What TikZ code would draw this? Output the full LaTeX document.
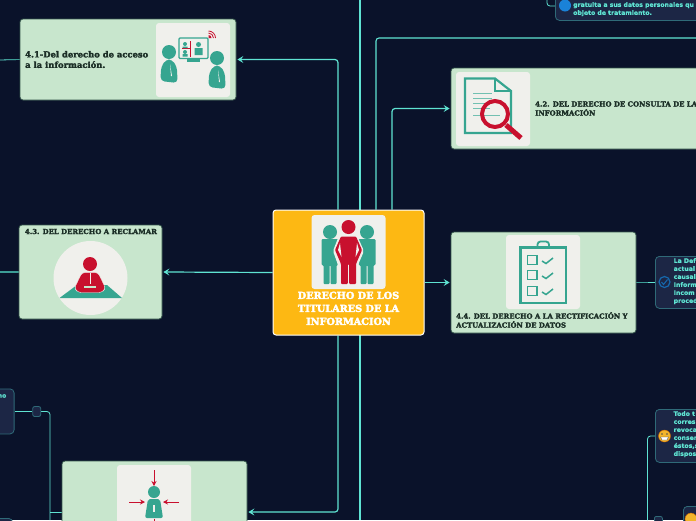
\documentclass[tikz,border=0pt]{standalone}
\usepackage{fontspec}
\setmainfont[BoldFeatures={FakeBold=0.5}]{DejaVu Sans}
\newfontfamily\titlefont[BoldFeatures={FakeBold=2.4}]{DejaVu Serif}
\newfontfamily\hubfont[BoldFeatures={FakeBold=3.2}]{DejaVu Serif}
\usepackage{tikz}
\usetikzlibrary{
  arrows.meta,
  positioning,
  backgrounds
}
\definecolor{mapnight}{HTML}{0A122A}
\definecolor{maplink}{HTML}{5FE3D2}
\definecolor{mapstub}{HTML}{3C9C96}
\definecolor{mapgreen}{HTML}{C8E6CD}
\definecolor{mapedge}{HTML}{34544A}
\definecolor{mapgold}{HTML}{FDB813}
\definecolor{mappanel}{HTML}{F0F0EC}
\definecolor{mapteal}{HTML}{36A590}
\definecolor{mapred}{HTML}{C8102E}
\definecolor{mapnote}{HTML}{1C2645}
\definecolor{mapnoteedge}{HTML}{2F6A78}
\definecolor{mapink}{HTML}{1B2E26}
\definecolor{mapblue}{HTML}{1A82D8}
\definecolor{mapface}{HTML}{F2B52C}
\tikzset{
  topic/.style={
    rectangle, draw=mapedge, fill=mapgreen, rounded corners=3pt,
    line width=0.8pt, inner sep=0pt
  },
  hubbox/.style={
    rectangle, draw=white, fill=mapgold, rounded corners=3pt,
    line width=1pt, inner sep=0pt, minimum width=151pt, minimum height=125pt
  },
  panel/.style={
    rectangle, fill=mappanel, rounded corners=3pt,
    minimum width=74pt, minimum height=74pt, inner sep=0pt
  },
  notebox/.style={
    rectangle, draw=mapnoteedge, fill=mapnote, rounded corners=4pt,
    line width=0.8pt, inner sep=0pt
  },
  dotbox/.style={
    rectangle, draw=mapnoteedge, fill=mapnote, rounded corners=2pt,
    line width=0.8pt, inner sep=0pt, minimum width=8pt, minimum height=10pt
  },
  topictext/.style={
    font=\titlefont\bfseries\fontsize{8.4}{10.5}\selectfont, text=mapink,
    align=left, inner sep=0pt
  },
  capstext/.style={
    font=\titlefont\bfseries\fontsize{6.9}{9}\selectfont, text=mapink,
    align=left, inner sep=0pt
  },
  hubtext/.style={
    font=\hubfont\bfseries\fontsize{9.7}{13}\selectfont, text=white,
    align=center, inner sep=0pt
  },
  notetext/.style={
    font=\bfseries\fontsize{6.15}{8}\selectfont, text=maplink,
    align=left, inner sep=0pt
  },
  link/.style={-{Stealth[length=6pt, width=7pt, inset=2.5pt]}, maplink, line width=1.2pt, rounded corners=3pt},
  wire/.style={maplink, line width=1.1pt, rounded corners=3pt},
  thinwire/.style={maplink, line width=0.8pt, rounded corners=3pt},
  stub/.style={mapstub, line width=1.2pt},
  smiley/.style={circle, fill=mapface, draw=orange!80!black, line width=0.4pt, minimum size=12pt, inner sep=0pt},
  pointer/.style={-{Stealth[length=5pt, width=5pt]}, mapred, line width=1pt},
}
% head and body of one figure
\newcommand{\figperson}[3]{
  \fill[#3] (#1,#2) circle (7);
  \fill[#3, rounded corners=4pt] (#1-8.5,#2+29) -- (#1-8,#2+15) -- (#1-3,#2+7.5) -- (#1+3,#2+7.5) -- (#1+8,#2+15) -- (#1+8.5,#2+31) -- cycle;
  \fill[mappanel] (#1+1,#2+12) -- (#1+3,#2+24) -- (#1+2,#2+24) -- cycle;
}
% standing figure of the hub
\newcommand{\figstanding}[3]{
  \fill[#3] (#1,#2) circle (7);
  \fill[#3, rounded corners=1pt] (#1-8.5,#2+7) -- (#1+8.5,#2+7) -- (#1+8.5,#2+33) -- (#1+6.5,#2+33) -- (#1+6.5,#2+52) -- (#1+0.5,#2+52) -- (#1+0.5,#2+33) -- (#1-0.5,#2+33) -- (#1-0.5,#2+52) -- (#1-6.5,#2+52) -- (#1-6.5,#2+33) -- (#1-8.5,#2+33) -- cycle;
}
\begin{document}
\begin{tikzpicture}[x=1pt, y=-1pt]
\useasboundingbox (0,0) rectangle (696,520);

% main nodes
\node[hubbox] (hub) at (348.5,272.5) {};
\node[topic, minimum width=216pt, minimum height=81pt] (access) at (128,59.5) {};
\node[topic, minimum width=280pt, minimum height=81pt] (consult) at (591,108.5) {};
\node[topic, minimum width=143pt, minimum height=94pt] (claim) at (90.5,272) {};
\node[topic, minimum width=185pt, minimum height=101pt] (rectify) at (543.5,282.5) {};
\node[topic, minimum width=185pt, minimum height=102pt] (revoke) at (154.5,512) {};

% picture panels
\node[panel] (hubpanel) at (348.5,252) {};
\node[panel] (accesspanel) at (193,60) {};
\node[panel] (consultpanel) at (493,109) {};
\node[panel, circle] (claimpanel) at (90.5,278) {};
\node[panel] (rectifypanel) at (543,272) {};
\node[panel] (revokepanel) at (154,502) {};

% texts
\node[hubtext, anchor=north] (hubtitle) at (348.5,291.5) {DERECHO DE LOS\\TITULARES DE LA\\INFORMACION};
\node[topictext, anchor=west] (accesstitle) at (25,59.5) {4.1-Del derecho de acceso\\a la información.};
\node[capstext, anchor=west] (consulttitle) at (535,108.5) {4.2. DEL DERECHO DE CONSULTA DE LA\\INFORMACIÓN};
\node[capstext] (claimtitle) at (91,231.5) {4.3. DEL DERECHO A RECLAMAR};
\node[capstext, anchor=north west] (rectifytitle) at (456,312) {4.4. DEL DERECHO A LA RECTIFICACIÓN Y\\ACTUALIZACIÓN DE DATOS};

% note boxes
\node[notebox, anchor=north west, minimum width=160pt, minimum height=40pt] (notetop) at (555,-20) {};
\node[notetext, anchor=north west] (notetoptext) at (573,2) {gratuita a sus datos personales qu\\objeto de tratamiento.};
\node[notebox, anchor=north west, minimum width=70pt, minimum height=52pt] (noterect) at (655,256) {};
\node[notetext, anchor=north west] (noterecttext) at (673.5,258) {La Def\\actual\\causal\\Inform\\Incom\\proced};
\node[notebox, anchor=north west, minimum width=70pt, minimum height=53pt] (noteall) at (655,409) {};
\node[notetext, anchor=north west] (notealltext) at (673.5,411) {Todo t\\corres\\revoca\\consen\\éstos,s\\dispos};
\node[notebox, anchor=north west, minimum width=40pt, minimum height=40pt] (notecorner) at (683,506) {};
\node[notebox, anchor=north east, minimum width=60pt, minimum height=45pt] (noteleft) at (14.5,388.5) {};
\node[notetext, anchor=east] (notelefttext) at (6.5,396) {no};
\node[notebox, anchor=north east, minimum width=60pt, minimum height=30pt] (notelow) at (13,518) {};
\node[dotbox] (dotleft) at (36.7,411.5) {};
\node[dotbox, anchor=north west] (dotright) at (654,516) {};

% free ends at the border
\coordinate (edgeA) at (0,60);
\coordinate (edgeB) at (0,272);
\coordinate (edgeC) at (696,38);
\coordinate (edgeD) at (647.5,520);
\coordinate (edgeE) at (50,520);
\coordinate (edgeF) at (547,0);
\coordinate (edgeG) at (360,0);
\coordinate (edgeH) at (360,520);

\begin{scope}[on background layer]
\fill[mapnight] (0,0) rectangle (696,520);
\draw[wire] (edgeG) -- (edgeH);
\draw[link] ([xshift=-10.5pt]hub.north) |- ([xshift=1pt]access.east);
\draw[wire] ([xshift=27.5pt]hub.north) |- (edgeC);
\draw[link] ([xshift=43.5pt]hub.north) |- ([xshift=-1pt]consult.west);
\draw[link] (hub.west) -- ([xshift=1pt]claim.east);
\draw[link] (hub.east |- rectify.west) -- ([xshift=-1pt]rectify.west);
\draw[link] ([xshift=-10.5pt]hub.south) |- ([xshift=1pt]revoke.east);
\draw[thinwire] (edgeA) -- (access.west);
\draw[stub] ([xshift=-11pt]access.west) -- (access.west);
\draw[stub] (edgeB) -- (claim.west);
\draw[stub] (rectify.east) -- ([xshift=-7pt]rectify.east -| noterect.west);
\draw[thinwire] ([xshift=-7pt]rectify.east -| noterect.west) -- (rectify.east -| noterect.west);
\draw[thinwire] (noteleft.east |- dotleft) -- (dotleft);
\draw[thinwire] (dotleft) -- ++(13.3,0) -- (edgeE);
\draw[thinwire] (revoke.west) -- (revoke.west -| edgeE);
\draw[thinwire] (edgeD) |- (noteall.west |- 0,436);
\draw[thinwire] (edgeF) |- (notetop.west |- 0,6);
\end{scope}

% icon of the hub
\figstanding{330}{232}{mapteal}
\figstanding{367}{232}{mapteal}
\fill[mappanel, rounded corners=2pt] (339,235.5) -- (357,235.5) -- (364,251) -- (358,265) -- (358,285) -- (338,285) -- (338,265) -- (333,251) -- cycle;
\fill[mapred] (348.5,227) circle (7);
\fill[mapred, rounded corners=1pt] (341,236.5) -- (356,236.5) -- (362,250) -- (356,264) -- (356,284) -- (349.2,284) -- (349.2,264) -- (347.8,264) -- (347.8,284) -- (341,284) -- (341,264) -- (335,250) -- cycle;
\fill[mappanel] (340,243) -- (338,250) -- (341.5,257) -- cycle;
\fill[mappanel] (357,243) -- (359,250) -- (355.5,257) -- cycle;

% icon of the first topic
\figperson{169}{52}{mapteal}
\figperson{217}{58}{mapteal}
\fill[mapteal] (187,59) rectangle (200,62);
\draw[mapteal, line width=1.2pt, fill=mappanel, rounded corners=1pt] (179,38) rectangle (208,58.5);
\draw[mapred, line width=1pt] (190.5,41) -- (190.5,57) (182,48.5) -- (190.5,48.5);
\fill[mapteal] (185,44) circle (2) (182.5,46.5) rectangle (187.5,48) (185,52) circle (2) (182.5,54) rectangle (187.5,56.5);
\fill[mapteal] (198.5,44.5) circle (2.5) (194.5,48) rectangle (202.5,55);
\draw[mapred, line width=0.8pt] (208.5,31) arc[start angle=-90, end angle=0, radius=7];
\draw[mapred, line width=0.8pt] (208.5,33) arc[start angle=-90, end angle=0, radius=5];
\fill[mapred] (208.5,38) -- (208.5,35) arc[start angle=-90, end angle=0, radius=3] -- cycle;

% icon of the second topic
\draw[mapteal, line width=2.2pt] (495,78.5) -- (465,78.5) -- (465,133) -- (511,133) -- (511,91) -- cycle;
\draw[mapteal, line width=1.5pt] (495,78.5) -- (495,91) -- (511,91);
\foreach \ya/\xb in {93/492, 98/492, 103/492, 108/490, 115/500}{
  \draw[mapteal!70, line width=1pt] (473,\ya) -- (\xb,\ya);
}
\draw[mapred, line width=4pt] (495,114) circle (13);
\draw[mapred, line width=5pt] (506,125) -- (521,138);

% icon of the third topic
\fill[mapteal] (59.5,298) -- (77,285) -- (107,285) -- (122,298) -- cycle;
\fill[mapred] (90,264) circle (7);
\fill[mapred, draw=mappanel, line width=0.4pt, rounded corners=3pt] (82,272.5) -- (98,272.5) -- (105.5,288) -- (102,292.5) -- (78,292.5) -- (74.5,288) -- cycle;
\fill[mappanel] (89.5,273) rectangle (90.5,284);
\fill[mapgreen] (84,286) rectangle (96,288);

% icon of the fourth topic
\draw[mapteal, line width=2.3pt] (520.5,247.5) rectangle (566,303);
\draw[mapteal, line width=1.8pt, rounded corners=3pt] (537.5,246.5) -- (537.5,241.5) -- (549,241.5) -- (549,246.5);
\foreach \yb in {260, 275, 291}{
  \draw[mapteal, line width=1.3pt] (527.5,\yb-4.5) rectangle (537,\yb+4.5);
  \draw[mapteal, line width=1.5pt] (542,\yb+1) -- (546,\yb+3.5) -- (553,\yb-2);
}

% icon of the fifth topic
\fill[mapteal] (154,492) circle (6);
\fill[mapteal, rounded corners=2pt] (148,499) -- (160,499) -- (163,518) -- (145,518) -- cycle;
\fill[mappanel] (153,505) rectangle (155,512);
\draw[pointer] (154,470) -- (154,486);
\draw[pointer] (129,502) -- (145,502);
\draw[pointer] (179,502) -- (163,502);
\draw[mapred, line width=1pt] (154,518.5) -- (154,521);

% small signs in the notes
\node[circle, fill=mapblue, minimum size=12pt, inner sep=0pt] (signglobe) at (565,5.5) {};
\node[circle, draw=mapblue!80!black, line width=1.2pt, minimum size=11pt, inner sep=0pt] (signcheck) at (664.5,282) {};
\draw[mapblue!80!black, line width=1pt] (661.5,282) -- (663.5,284.5) -- (667.5,279.5);
\node[smiley] (signface) at (664.5,436) {};
\node[smiley] (signcorner) at (691,519) {};
\fill[black!70] (662,434) circle (0.8) (667,434) circle (0.8);
\fill[white, draw=black!70, line width=0.4pt] (660.5,437) -- (668.5,437) -- (667,440) -- (662,440) -- cycle;
\end{tikzpicture}
\end{document}
